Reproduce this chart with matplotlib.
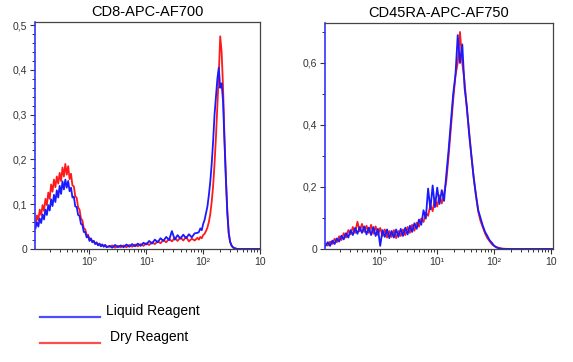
import numpy as np
import matplotlib
matplotlib.use('Agg')
import matplotlib.pyplot as plt
from matplotlib.lines import Line2D
from matplotlib.ticker import FixedLocator, LogLocator, NullFormatter, FuncFormatter

plt.rcParams['font.family'] = ['Liberation Sans', 'DejaVu Sans']

# CD8-APC-AF700 : log10 of intensity and the two histograms
cd8_logx = [-0.95, -0.925, -0.9, -0.875, -0.85, -0.825, -0.8, -0.775, -0.75, -0.725,
            -0.7, -0.675, -0.65, -0.625, -0.6, -0.575, -0.55, -0.525, -0.5, -0.475,
            -0.45, -0.425, -0.4, -0.375, -0.35, -0.325, -0.3, -0.275, -0.25, -0.225,
            -0.2, -0.175, -0.15, -0.125, -0.1, -0.075, -0.05, -0.025, 0.0, 0.025,
            0.05, 0.075, 0.1, 0.125, 0.15, 0.175, 0.2, 0.225, 0.25, 0.275, 0.3,
            0.35, 0.4, 0.45, 0.5, 0.55, 0.6, 0.65, 0.7, 0.75, 0.8, 0.85, 0.9, 0.95,
            1.0, 1.05, 1.1, 1.15, 1.2, 1.25, 1.3, 1.35, 1.4, 1.45, 1.5, 1.55, 1.6,
            1.65, 1.7, 1.75, 1.8, 1.85, 1.9,
            1.925, 1.95, 1.975, 2.0, 2.025, 2.05, 2.075, 2.1, 2.125, 2.15, 2.175,
            2.2, 2.225, 2.25, 2.275, 2.3, 2.325, 2.35, 2.375, 2.4, 2.425, 2.45,
            2.475, 2.5, 2.525, 2.55, 2.575, 2.6,
            2.7, 2.8, 2.9, 3.0]
cd8_dry = [0.056, 0.075, 0.064, 0.088, 0.076, 0.098, 0.085, 0.112, 0.098, 0.126,
           0.112, 0.144, 0.128, 0.155, 0.138, 0.162, 0.146, 0.170, 0.152, 0.182,
           0.162, 0.190, 0.166, 0.185, 0.156, 0.168, 0.142, 0.140, 0.118, 0.114,
           0.093, 0.088, 0.068, 0.064, 0.046, 0.044, 0.031, 0.032, 0.022, 0.024,
           0.016, 0.018, 0.012, 0.015, 0.009, 0.012, 0.007, 0.010, 0.006, 0.009, 0.005,
           0.005, 0.008, 0.003, 0.007, 0.004, 0.008, 0.004, 0.009, 0.005, 0.010,
           0.006, 0.011, 0.007, 0.013, 0.009, 0.015, 0.011, 0.017, 0.013, 0.020,
           0.015, 0.023, 0.017, 0.025, 0.018, 0.026, 0.019, 0.027, 0.017, 0.023,
           0.019, 0.025,
           0.021, 0.027, 0.024, 0.031, 0.034, 0.040, 0.048, 0.060, 0.078, 0.105,
           0.140, 0.190, 0.250, 0.320, 0.390, 0.475, 0.440, 0.360, 0.250, 0.160,
           0.085, 0.035, 0.015, 0.007, 0.003, 0.002, 0.001, 0.0,
           0.0, 0.0, 0.0, 0.0]
cd8_liquid = [0.046, 0.060, 0.050, 0.068, 0.058, 0.077, 0.066, 0.088, 0.076, 0.098,
              0.086, 0.111, 0.096, 0.121, 0.105, 0.131, 0.115, 0.141, 0.123, 0.151,
              0.133, 0.155, 0.137, 0.152, 0.129, 0.137, 0.115, 0.117, 0.095, 0.094,
              0.076, 0.074, 0.056, 0.054, 0.038, 0.038, 0.026, 0.029, 0.018, 0.023,
              0.015, 0.018, 0.011, 0.014, 0.008, 0.012, 0.006, 0.010, 0.005, 0.009, 0.004,
              0.007, 0.003, 0.009, 0.004, 0.008, 0.004, 0.010, 0.005, 0.011, 0.006,
              0.012, 0.007, 0.014, 0.010, 0.018, 0.012, 0.021, 0.015, 0.024, 0.018,
              0.027, 0.020, 0.040, 0.021, 0.031, 0.023, 0.032, 0.024, 0.033, 0.026,
              0.035, 0.036,
              0.038, 0.046, 0.042, 0.056, 0.065, 0.080, 0.095, 0.120, 0.150, 0.190,
              0.240, 0.300, 0.340, 0.380, 0.405, 0.360, 0.370, 0.330, 0.240, 0.155,
              0.080, 0.035, 0.016, 0.008, 0.004, 0.002, 0.001, 0.0,
              0.0, 0.0, 0.0, 0.0]

# CD45RA-APC-AF750
cd45_logx = [-0.95, -0.91, -0.87, -0.83, -0.79, -0.75, -0.71, -0.67, -0.63, -0.59,
             -0.55, -0.51, -0.47, -0.43, -0.39, -0.35, -0.31, -0.27, -0.23, -0.19,
             -0.15, -0.11, -0.07, -0.03, 0.01, 0.05, 0.09, 0.13, 0.17, 0.21,
             0.25, 0.29, 0.33, 0.37, 0.41, 0.45, 0.49, 0.53, 0.57, 0.61,
             0.65, 0.69, 0.73, 0.77, 0.81, 0.85, 0.89, 0.93, 0.97, 1.01,
             1.05, 1.09, 1.13, 1.17, 1.21, 1.25, 1.29, 1.33, 1.37, 1.41,
             1.45, 1.49, 1.53, 1.57, 1.61, 1.65, 1.69, 1.73, 1.77, 1.81,
             1.85, 1.89, 1.93, 1.97, 2.01, 2.05, 2.09, 2.13, 2.17,
             2.3, 2.5, 2.7, 2.9, 3.05]
cd45_liquid = [0.010, 0.022, 0.010, 0.027, 0.016, 0.034, 0.024, 0.043, 0.031, 0.051,
               0.037, 0.061, 0.045, 0.068, 0.049, 0.071, 0.052, 0.073, 0.047, 0.069,
               0.045, 0.071, 0.042, 0.065, 0.010, 0.061, 0.039, 0.063, 0.035, 0.058,
               0.037, 0.063, 0.039, 0.065, 0.042, 0.069, 0.047, 0.075, 0.055, 0.083,
               0.065, 0.095, 0.078, 0.125, 0.098, 0.195, 0.128, 0.205, 0.135, 0.198,
               0.145, 0.190, 0.155, 0.240, 0.320, 0.410, 0.500, 0.560, 0.690, 0.600,
               0.660, 0.520, 0.460, 0.370, 0.300, 0.230, 0.175, 0.125, 0.100, 0.075,
               0.055, 0.042, 0.028, 0.020, 0.010, 0.005, 0.002, 0.001, 0.0,
               0.0, 0.0, 0.0, 0.0, 0.0]
cd45_dry = [0.016, 0.011, 0.024, 0.016, 0.033, 0.022, 0.041, 0.029, 0.051, 0.037,
            0.061, 0.047, 0.071, 0.052, 0.088, 0.057, 0.081, 0.055, 0.075, 0.052,
            0.078, 0.049, 0.073, 0.045, 0.068, 0.042, 0.063, 0.037, 0.058, 0.039,
            0.061, 0.035, 0.058, 0.042, 0.063, 0.045, 0.071, 0.052, 0.078, 0.059,
            0.085, 0.072, 0.098, 0.087, 0.118, 0.107, 0.143, 0.122, 0.163, 0.137,
            0.173, 0.147, 0.178, 0.220, 0.300, 0.390, 0.480, 0.560, 0.600, 0.700,
            0.600, 0.540, 0.450, 0.380, 0.300, 0.230, 0.170, 0.120, 0.090, 0.070,
            0.050, 0.035, 0.025, 0.015, 0.010, 0.006, 0.004, 0.002, 0.001,
            0.0, 0.0, 0.0, 0.0, 0.0]

titles = ['CD8-APC-AF700', 'CD45RA-APC-AF750']
decade_labels = ['10\u2070', '10\u00b9', '10\u00b2', '10']
legend_labels = ['Liquid Reagent', 'Dry Reagent']

W, H = 573, 362
fig = plt.figure(figsize=(W / 100, H / 100), dpi=100)

def px_axes(left, top, right, bottom):
    return fig.add_axes([left / W, 1 - bottom / H, (right - left) / W, (bottom - top) / H])

ax1 = px_axes(35, 22, 260, 249)
ax2 = px_axes(325, 23, 553, 249)

panels = [
    (ax1, cd8_logx, cd8_dry, cd8_liquid, (0.11, 1000), 0.507, 0.1, 0.02),
    (ax2, cd45_logx, cd45_dry, cd45_liquid, (0.11, 1100), 0.729, 0.2, 0.1),
]

for i, (ax, lx, dry, liq, xlim, ytop, ymaj, ymin) in enumerate(panels):
    x = 10 ** np.array(lx)
    ax.plot(x, dry, color='#ff1a1a', lw=1.3)
    ax.plot(x, liq, color='#1a1aff', lw=1.3)
    ax.set_xscale('log')
    ax.set_xlim(*xlim)
    ax.set_ylim(0, ytop)

    ax.xaxis.set_major_locator(FixedLocator([1, 10, 100, 1000]))
    ax.set_xticklabels(decade_labels)
    ax.xaxis.set_minor_locator(LogLocator(base=10, subs=np.arange(2, 10), numticks=20))
    ax.xaxis.set_minor_formatter(NullFormatter())

    ax.yaxis.set_major_locator(FixedLocator(np.arange(0, ytop + 1e-6, ymaj)))
    ax.yaxis.set_minor_locator(FixedLocator(np.arange(0, ytop + 1e-6, ymin)))
    ax.yaxis.set_major_formatter(FuncFormatter(
        lambda v, p: '0' if abs(v) < 1e-9 else ('%.1f' % v).replace('.', ',')))

    ax.tick_params(axis='both', which='major', length=3.5, width=0.8,
                   labelsize=7.5, colors='#333333', pad=2)
    ax.tick_params(axis='both', which='minor', length=2, width=0.7, colors='#333333')

    for s in ['top', 'right', 'bottom']:
        ax.spines[s].set_color('#444444')
        ax.spines[s].set_linewidth(0.9)
    ax.spines['left'].set_color('#3333ff')
    ax.spines['left'].set_linewidth(1.2)

    ax.set_title(titles[i], fontsize=10.5, pad=4)

# legend drawn in figure pixels
leg_colors = ['#4d4dff', '#ff4d4d']
leg_lines_y = [317, 343]
leg_text_x = [106, 110]
for c, ly, tx, lab in zip(leg_colors, leg_lines_y, leg_text_x, legend_labels):
    fig.add_artist(Line2D([40 / W, 100 / W], [1 - ly / H, 1 - ly / H],
                          color=c, lw=1.6, transform=fig.transFigure))
    fig.text(tx / W, 1 - (ly - 6) / H, lab, fontsize=10, va='center', ha='left')

fig.savefig('out.png', dpi=100)
